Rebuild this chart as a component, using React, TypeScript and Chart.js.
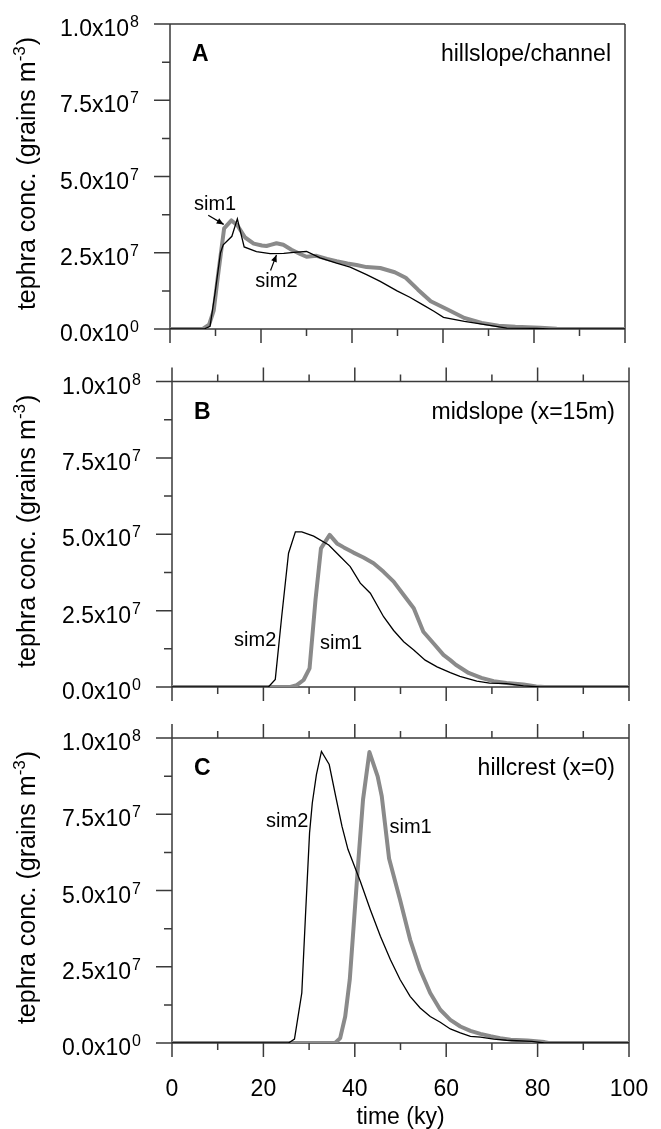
import React, { useEffect, useRef } from "react";
import { Chart, registerables } from "chart.js";

Chart.register(...registerables);

const FONT = '"Liberation Sans", Arial, Helvetica, sans-serif';

// ---------- data (time in ky, concentration in grains m^-3) ----------
// Panel A: hillslope/channel
const aSim1Time = [0, 7.2, 8.6, 9.6, 10.5, 11.9, 13.5, 14.8, 16.5, 18.4, 20.2, 21.2, 22.1, 23.4, 24.9, 26.7, 28.6, 30, 32.2, 34.5, 36.6, 39, 41, 43.2, 46.2, 49.4, 51.8, 54.5, 57.3, 61, 64.7, 68.5, 72.2, 75.9, 81.4, 85, 88, 100];
const aSim1Conc = [0, 0, 1.4e6, 6e6, 17e6, 33e6, 35.6e6, 34e6, 30e6, 28e6, 27.4e6, 27.2e6, 27.6e6, 28.1e6, 27.6e6, 26e6, 24.6e6, 23.7e6, 24e6, 23e6, 22.2e6, 21.5e6, 21e6, 20.3e6, 20e6, 18.6e6, 16.8e6, 12.9e6, 9.1e6, 6.4e6, 3.6e6, 2e6, 1.1e6, 0.7e6, 0.4e6, 0.1e6, 0, 0];
const aSim2Time = [0, 7.5, 8.8, 9.9, 11.1, 11.7, 13.6, 14.8, 16.3, 19, 22, 25, 27.8, 30, 33, 36.6, 39.6, 43.2, 46.2, 49.9, 52.7, 55.5, 58, 60.1, 64.7, 70.3, 74, 80.5, 83.3, 100];
const aSim2Conc = [0, 0, 0.9e6, 11.8e6, 25e6, 27.6e6, 30.4e6, 36.1e6, 26.9e6, 25.4e6, 24.7e6, 24.8e6, 25.2e6, 25.4e6, 23.3e6, 21.6e6, 20.3e6, 17.8e6, 15.6e6, 12.5e6, 10.4e6, 8e6, 5.8e6, 3.8e6, 2.5e6, 1.2e6, 0.3e6, 0.2e6, 0, 0];

// Panel B: midslope (x=15m)
const bSim1Time = [0, 25.9, 27.3, 28.8, 30.1, 31.4, 32.6, 34.5, 36.1, 37.6, 39.7, 41.9, 44.1, 46.3, 48.5, 50.7, 52.9, 55, 57.2, 59.4, 60.9, 62.1, 64.9, 67.7, 70.4, 73.2, 76.9, 79.7, 81.5, 100];
const bSim1Conc = [0, 0, 0.6e6, 2.3e6, 6.1e6, 28.5e6, 45.4e6, 49.8e6, 47e6, 45.7e6, 44e6, 42.4e6, 40.5e6, 37.7e6, 34.5e6, 30.1e6, 25.8e6, 18.1e6, 14.3e6, 10.5e6, 8.8e6, 7.3e6, 4.6e6, 3e6, 1.9e6, 1.3e6, 0.8e6, 0.2e6, 0, 0];
const bSim2Time = [0, 21.1, 22.6, 24, 25.5, 27, 28.4, 31, 34.3, 36.8, 39, 41.2, 43.4, 46.3, 48.5, 50.7, 52.9, 55.4, 58, 60.9, 63, 66.7, 69.5, 73.2, 76.9, 80.6, 100];
const bSim2Conc = [0, 0, 2.5e6, 23e6, 43.8e6, 50.8e6, 50.8e6, 49.4e6, 46.5e6, 42.7e6, 39.4e6, 34e6, 30.7e6, 23e6, 18.5e6, 14.8e6, 12.1e6, 8.8e6, 6.6e6, 4.7e6, 3.5e6, 1.9e6, 1.3e6, 1.1e6, 0.4e6, 0, 0];

// Panel C: hillcrest (x=0)
const cSim1Time = [0, 35.7, 36.8, 37.9, 38.9, 39.9, 40.8, 41.8, 43.2, 45, 45.9, 47.5, 49.9, 52.1, 54.3, 56.5, 58.7, 60.9, 63.1, 65.3, 67.5, 69.7, 71.8, 74.1, 77.8, 81.5, 82.4, 100];
const cSim1Conc = [0, 0, 1.6e6, 8.7e6, 20.8e6, 41.5e6, 60.1e6, 79.8e6, 95.4e6, 87.4e6, 80.9e6, 60.5e6, 47e6, 33.9e6, 24e6, 16.4e6, 10.9e6, 7.6e6, 5.4e6, 4e6, 3e6, 2.2e6, 1.6e6, 1.1e6, 0.8e6, 0.3e6, 0, 0];
const cSim2Time = [0, 25.5, 26.8, 27.7, 28.4, 29.2, 30.1, 30.7, 31.6, 32.7, 34.4, 35.8, 37.2, 38.5, 41.2, 43.4, 45.6, 47.8, 49.9, 52.1, 54.3, 56.5, 58.7, 60.9, 63.1, 65.3, 67.5, 70.4, 73.2, 78.7, 81.5, 100];
const cSim2Conc = [0, 0, 1.3e6, 9.8e6, 16.4e6, 41.5e6, 68.9e6, 78.7e6, 88e6, 95.6e6, 91.3e6, 81e6, 71e6, 63.5e6, 53e6, 43.7e6, 35e6, 27.3e6, 20.8e6, 15.3e6, 11.5e6, 8.7e6, 6.8e6, 4.6e6, 3.3e6, 2.2e6, 1.9e6, 1.3e6, 0.9e6, 0.5e6, 0, 0];

// ---------- axes ----------
const yMajorTicks = [0, 2.5e7, 5e7, 7.5e7, 1e8];
const yMinorTicks = [1.25e7, 3.75e7, 6.25e7, 8.75e7];
const yTickMantissa = ["0.0", "2.5", "5.0", "7.5", "1.0"];
const yTickExponent = ["0", "7", "7", "7", "8"];
const xMajorTicks = [0, 20, 40, 60, 80, 100];
const xMinorTicks = [10, 30, 50, 70, 90];
const xTickLabels = ["0", "20", "40", "60", "80", "100"];
const xTitle = "time (ky)";
const yTitleMain = "tephra conc. (grains m";
const yTitleSup = "-3";
const yTitleEnd = ")";

const GRAY = "#8a8a8a";
const AXIS = "#3a3a3a";

type Panel = {
  canvasTop: number;
  canvasH: number;
  pad: { left: number; right: number; top: number; bottom: number };
  letter: string;
  title: string;
  sim1T: number[];
  sim1V: number[];
  sim2T: number[];
  sim2V: number[];
  topTicks: boolean;
  xLabels: boolean;
  labels: { text: string; t: number; v: number }[];
  arrows: { t1: number; v1: number; t2: number; v2: number }[];
};

const PANELS: Panel[] = [
  {
    canvasTop: 0, canvasH: 360,
    pad: { left: 170, right: 36, top: 24, bottom: 31 },
    letter: "A", title: "hillslope/channel",
    sim1T: aSim1Time, sim1V: aSim1Conc, sim2T: aSim2Time, sim2V: aSim2Conc,
    topTicks: false, xLabels: false,
    labels: [
      { text: "sim1", t: 9.9, v: 40.7e6 },
      { text: "sim2", t: 23.4, v: 15.6e6 },
    ],
    arrows: [
      { t1: 8.4, v1: 37.3e6, t2: 11.8, v2: 34.3e6 },
      { t1: 22.1, v1: 19.2e6, t2: 23.4, v2: 24.3e6 },
    ],
  },
  {
    canvasTop: 360, canvasH: 360,
    pad: { left: 172, right: 32, top: 21.5, bottom: 33 },
    letter: "B", title: "midslope (x=15m)",
    sim1T: bSim1Time, sim1V: bSim1Conc, sim2T: bSim2Time, sim2V: bSim2Conc,
    topTicks: true, xLabels: false,
    labels: [
      { text: "sim2", t: 18.2, v: 15.1e6 },
      { text: "sim1", t: 37, v: 14.1e6 },
    ],
    arrows: [],
  },
  {
    canvasTop: 720, canvasH: 409,
    pad: { left: 172, right: 32, top: 18, bottom: 86 },
    letter: "C", title: "hillcrest (x=0)",
    sim1T: cSim1Time, sim1V: cSim1Conc, sim2T: cSim2Time, sim2V: cSim2Conc,
    topTicks: true, xLabels: true,
    labels: [
      { text: "sim2", t: 25.2, v: 72.6e6 },
      { text: "sim1", t: 52.2, v: 70.6e6 },
    ],
    arrows: [],
  },
];

const toPoints = (t: number[], v: number[]) => t.map((x, i) => ({ x, y: v[i] }));

function PanelChart({ cfg }: { cfg: Panel }) {
  const ref = useRef<HTMLCanvasElement | null>(null);

  useEffect(() => {
    const canvas = ref.current;
    if (!canvas) return;

    const framePlugin = {
      id: "frame",
      beforeDatasetsDraw(chart: any) {
        const { ctx, chartArea, scales } = chart;
        const { left, right, top, bottom } = chartArea;
        const xs = scales.x;
        const ys = scales.y;
        const MAJ = 14, MIN = 7, YMAJ = 16, YMIN = 8;
        ctx.save();
        ctx.strokeStyle = AXIS;
        ctx.lineWidth = 1.5;
        ctx.beginPath();
        const yTop = cfg.topTicks ? top - MAJ : top;
        ctx.moveTo(left, yTop);
        ctx.lineTo(left, bottom + MAJ);
        ctx.moveTo(right, yTop);
        ctx.lineTo(right, bottom + MAJ);
        ctx.moveTo(left - YMAJ, top);
        ctx.lineTo(right, top);
        ctx.moveTo(left - YMAJ, bottom);
        ctx.lineTo(right, bottom);
        yMajorTicks.forEach((v) => {
          const p = ys.getPixelForValue(v);
          ctx.moveTo(left - YMAJ, p);
          ctx.lineTo(left, p);
        });
        yMinorTicks.forEach((v) => {
          const p = ys.getPixelForValue(v);
          ctx.moveTo(left - YMIN, p);
          ctx.lineTo(left, p);
        });
        xMajorTicks.forEach((t) => {
          const p = xs.getPixelForValue(t);
          ctx.moveTo(p, bottom);
          ctx.lineTo(p, bottom + MAJ);
          if (cfg.topTicks) {
            ctx.moveTo(p, top);
            ctx.lineTo(p, top - MAJ);
          }
        });
        xMinorTicks.forEach((t) => {
          const p = xs.getPixelForValue(t);
          ctx.moveTo(p, bottom);
          ctx.lineTo(p, bottom + MIN);
          if (cfg.topTicks) {
            ctx.moveTo(p, top);
            ctx.lineTo(p, top - MIN);
          }
        });
        ctx.stroke();
        ctx.restore();
      },
      afterDraw(chart: any) {
        const { ctx, chartArea, scales } = chart;
        const { left, right, top, bottom } = chartArea;
        const xs = scales.x;
        const ys = scales.y;
        ctx.save();
        ctx.fillStyle = "#000";

        // y tick labels with superscript exponent
        const labelRight = left - 31;
        yMajorTicks.forEach((v, i) => {
          const p = ys.getPixelForValue(v);
          ctx.font = `16px ${FONT}`;
          ctx.textAlign = "right";
          ctx.textBaseline = "alphabetic";
          const supW = ctx.measureText(yTickExponent[i]).width;
          ctx.fillText(yTickExponent[i], labelRight, p + 3);
          ctx.font = `23px ${FONT}`;
          ctx.fillText(yTickMantissa[i] + "x10", labelRight - supW - 1, p + 12);
        });

        // x tick labels and title (bottom panel)
        if (cfg.xLabels) {
          ctx.font = `23px ${FONT}`;
          ctx.textAlign = "center";
          ctx.textBaseline = "middle";
          xMajorTicks.forEach((t, i) => {
            ctx.fillText(xTickLabels[i], xs.getPixelForValue(t), bottom + 47);
          });
          ctx.fillText(xTitle, (left + right) / 2, bottom + 75);
        }

        // y axis title (rotated)
        ctx.save();
        ctx.translate(35, (top + bottom) / 2 - 3);
        ctx.rotate(-Math.PI / 2);
        ctx.textAlign = "left";
        ctx.textBaseline = "alphabetic";
        ctx.font = `25px ${FONT}`;
        const wMain = ctx.measureText(yTitleMain).width;
        const wEnd = ctx.measureText(yTitleEnd).width;
        ctx.font = `17px ${FONT}`;
        const wSup = ctx.measureText(yTitleSup).width;
        const total = wMain + wSup + wEnd + 1;
        let cx = -total / 2;
        ctx.font = `25px ${FONT}`;
        ctx.fillText(yTitleMain, cx, 0);
        cx += wMain;
        ctx.font = `17px ${FONT}`;
        ctx.fillText(yTitleSup, cx, -10);
        cx += wSup + 1;
        ctx.font = `25px ${FONT}`;
        ctx.fillText(yTitleEnd, cx, 0);
        ctx.restore();

        // panel letter and title
        ctx.textBaseline = "alphabetic";
        ctx.font = `bold 23px ${FONT}`;
        ctx.textAlign = "left";
        ctx.fillText(cfg.letter, left + 22, top + 37);
        ctx.font = `23px ${FONT}`;
        ctx.textAlign = "right";
        ctx.fillText(cfg.title, right - 14, top + 37);

        // series labels
        ctx.font = `20px ${FONT}`;
        ctx.textAlign = "center";
        ctx.textBaseline = "middle";
        cfg.labels.forEach((l) => {
          ctx.fillText(l.text, xs.getPixelForValue(l.t), ys.getPixelForValue(l.v));
        });

        // arrows
        ctx.strokeStyle = "#000";
        ctx.lineWidth = 1.2;
        cfg.arrows.forEach((a) => {
          const x1 = xs.getPixelForValue(a.t1), y1 = ys.getPixelForValue(a.v1);
          const x2 = xs.getPixelForValue(a.t2), y2 = ys.getPixelForValue(a.v2);
          ctx.beginPath();
          ctx.moveTo(x1, y1);
          ctx.lineTo(x2, y2);
          ctx.stroke();
          const ang = Math.atan2(y2 - y1, x2 - x1);
          const L = 7, W = 3;
          ctx.beginPath();
          ctx.moveTo(x2, y2);
          ctx.lineTo(x2 - L * Math.cos(ang) + W * Math.sin(ang), y2 - L * Math.sin(ang) - W * Math.cos(ang));
          ctx.lineTo(x2 - L * Math.cos(ang) - W * Math.sin(ang), y2 - L * Math.sin(ang) + W * Math.cos(ang));
          ctx.closePath();
          ctx.fill();
        });
        ctx.restore();
      },
    };

    const chart = new Chart(canvas, {
      type: "line",
      data: {
        datasets: [
          {
            label: "sim2",
            data: toPoints(cfg.sim2T, cfg.sim2V),
            borderColor: "#000",
            borderWidth: 1.3,
            pointRadius: 0,
            tension: 0,
            order: 0,
          },
          {
            label: "sim1",
            data: toPoints(cfg.sim1T, cfg.sim1V),
            borderColor: GRAY,
            borderWidth: 4,
            pointRadius: 0,
            tension: 0,
            borderJoinStyle: "round",
            order: 1,
          },
        ],
      },
      options: {
        responsive: false,
        animation: false,
        maintainAspectRatio: false,
        layout: { padding: cfg.pad },
        scales: {
          x: { type: "linear", min: 0, max: 100, display: false },
          y: { type: "linear", min: 0, max: 1e8, display: false },
        },
        plugins: {
          legend: { display: false },
          tooltip: { enabled: false },
        },
      },
      plugins: [framePlugin],
    } as any);

    return () => chart.destroy();
  }, [cfg]);

  return (
    <canvas
      ref={ref}
      width={661}
      height={cfg.canvasH}
      style={{ position: "absolute", left: 0, top: cfg.canvasTop, width: 661, height: cfg.canvasH, display: "block" }}
    />
  );
}

export default function App() {
  return (
    <div style={{ position: "absolute", left: 0, top: 0, width: 661, height: 1129, background: "#fff" }}>
      {PANELS.map((p) => (
        <PanelChart key={p.letter} cfg={p} />
      ))}
    </div>
  );
}
